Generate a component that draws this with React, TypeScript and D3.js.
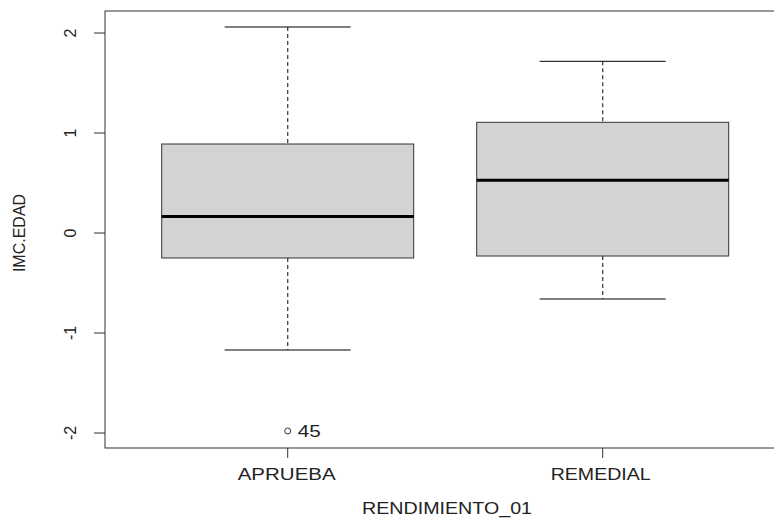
import React from "react";
import * as d3 from "d3";

const categories = ["APRUEBA", "REMEDIAL"];
const whiskerLow = [-1.17, -0.66];
const q1 = [-0.25, -0.23];
const medians = [0.165, 0.527];
const q3 = [0.89, 1.107];
const whiskerHigh = [2.06, 1.717];
const outliers = [{ group: 0, value: -1.98, label: "45" }];
const yTicks = [-2, -1, 0, 1, 2];

const W = 774;
const H = 518;
const FONT = "'Liberation Sans', Arial, sans-serif";
const labelLengths = [98, 100];

export default function App() {
  const x = d3.scaleLinear().domain([1, 2]).range([287.7, 602.7]);
  const y = d3.scaleLinear().domain([0, 1]).range([233, 133]);
  const left = x(0.42);
  const right = x(2.58);
  const top = y(2.22);
  const bottom = y(-2.15);
  const halfW = (x(2) - x(1)) * 0.4;
  const capW = halfW * 0.5;

  return (
    <svg width={W} height={H} style={{ position: "absolute", left: 0, top: 0 }}>
      <rect x={0} y={0} width={W} height={H} fill="#fff" />
      {categories.map((c, i) => {
        const cx = x(i + 1);
        return (
          <g key={c}>
            <line x1={cx} x2={cx} y1={y(whiskerHigh[i])} y2={y(q3[i])} stroke="#444" strokeWidth={1.3} strokeDasharray="4,3" />
            <line x1={cx} x2={cx} y1={y(q1[i])} y2={y(whiskerLow[i])} stroke="#444" strokeWidth={1.3} strokeDasharray="4,3" />
            <line x1={cx - capW} x2={cx + capW} y1={y(whiskerHigh[i])} y2={y(whiskerHigh[i])} stroke="#000" strokeWidth={1} />
            <line x1={cx - capW} x2={cx + capW} y1={y(whiskerLow[i])} y2={y(whiskerLow[i])} stroke="#000" strokeWidth={1} />
            <rect x={cx - halfW} y={y(q3[i])} width={halfW * 2} height={y(q1[i]) - y(q3[i])} fill="#d3d3d3" stroke="#333" strokeWidth={1} />
            <line x1={cx - halfW} x2={cx + halfW} y1={y(medians[i])} y2={y(medians[i])} stroke="#000" strokeWidth={3} />
          </g>
        );
      })}
      {outliers.map((o, k) => (
        <g key={k}>
          <circle cx={x(o.group + 1)} cy={y(o.value)} r={3} fill="none" stroke="#333" strokeWidth={1} />
          <text x={x(o.group + 1) + 10} y={y(o.value)} dy="0.36em" fontFamily={FONT} fontSize={17} textLength={23} lengthAdjust="spacingAndGlyphs" fill="#222">{o.label}</text>
        </g>
      ))}
      <rect x={left} y={top} width={right - left} height={bottom - top} fill="none" stroke="#333" strokeWidth={1} />
      {yTicks.map((t) => (
        <g key={t}>
          <line x1={left - 11} x2={left} y1={y(t)} y2={y(t)} stroke="#333" strokeWidth={1} />
          <text transform={`translate(76,${y(t)}) rotate(-90)`} textAnchor="middle" fontFamily={FONT} fontSize={16} fill="#222">{t}</text>
        </g>
      ))}
      {categories.map((c, i) => (
        <g key={c}>
          <line x1={x(i + 1)} x2={x(i + 1)} y1={bottom} y2={bottom + 10} stroke="#333" strokeWidth={1} />
          <text x={x(i + 1) - labelLengths[i] / 2 + (i === 0 ? -1 : -2)} y={480} fontFamily={FONT} fontSize={17} textLength={labelLengths[i]} lengthAdjust="spacingAndGlyphs" fill="#222">{c}</text>
        </g>
      ))}
      <text x={362} y={514} fontFamily={FONT} fontSize={17} textLength={170} lengthAdjust="spacingAndGlyphs" fill="#222">RENDIMIENTO_01</text>
      <text transform={`translate(25,233) rotate(-90)`} textAnchor="middle" fontFamily={FONT} fontSize={16} fill="#222">IMC.EDAD</text>
    </svg>
  );
}
